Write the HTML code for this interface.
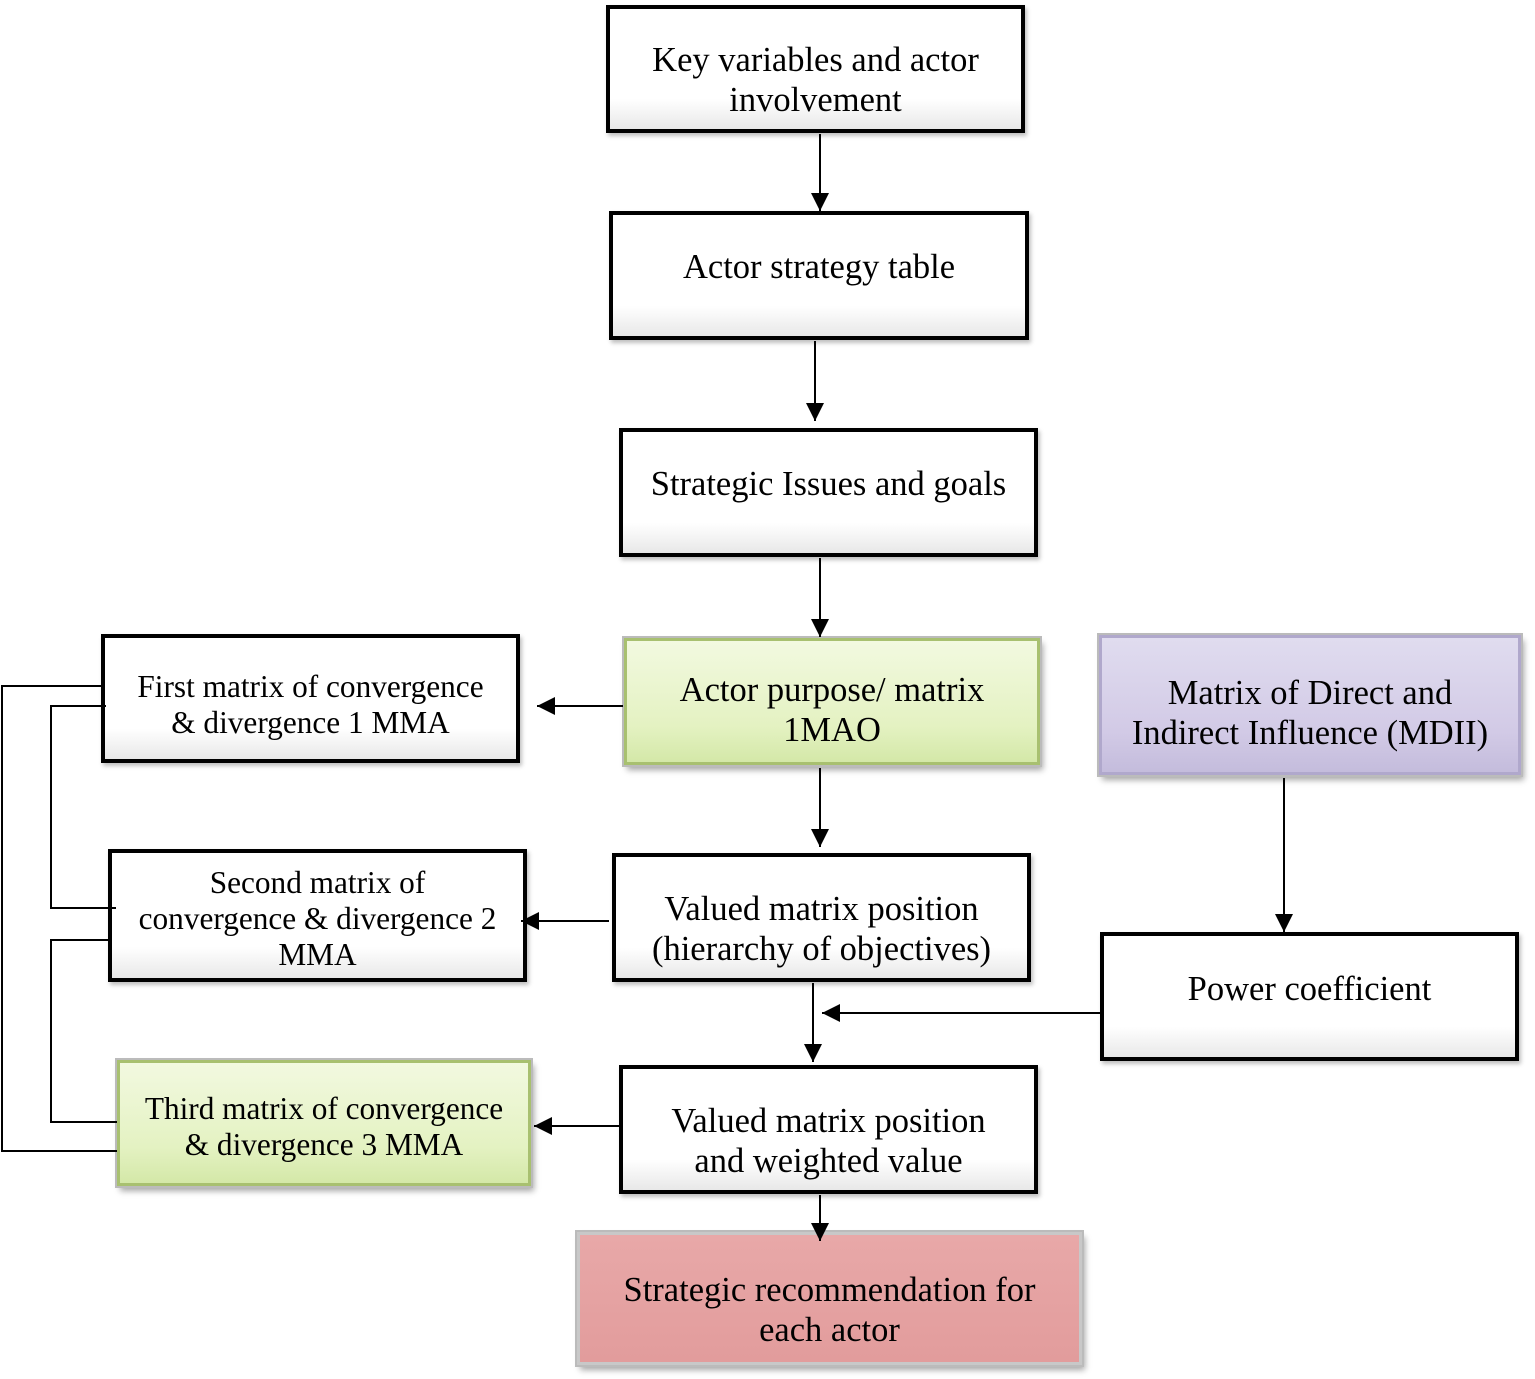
<!DOCTYPE html>
<html><head><style>
body{margin:0;width:1535px;height:1379px;background:#fff;position:relative;overflow:hidden;font-family:"Liberation Serif",serif;}
.b{position:absolute;box-sizing:border-box;border:4px solid #000;background:linear-gradient(#fff 0%,#fff 75%,#e8e8e8 100%);display:flex;align-items:center;justify-content:center;text-align:center;font-size:34.5px;line-height:40px;color:#000;box-shadow:2px 3px 4px rgba(0,0,0,0.25);}
.s{border:none;box-shadow:0 0 0 2px #bbb,3px 5px 6px rgba(0,0,0,0.35);}
svg{position:absolute;left:0;top:0;z-index:2}
</style></head><body>
<svg width="1535" height="1379">
<defs>
<marker id="m" viewBox="0 0 10 10" markerWidth="18" markerHeight="18" refX="10" refY="5" orient="auto" markerUnits="userSpaceOnUse"><path d="M0,0 L10,5 L0,10z" fill="#000"/></marker></defs>
<g stroke="#000" stroke-width="2" fill="none">
<line x1="820" y1="134" x2="820" y2="211" marker-end="url(#m)"/>
<line x1="815" y1="341" x2="815" y2="421" marker-end="url(#m)"/>
<line x1="820" y1="558" x2="820" y2="637" marker-end="url(#m)"/>
<line x1="820" y1="768" x2="820" y2="847" marker-end="url(#m)"/>
<line x1="1284" y1="778" x2="1284" y2="932" marker-end="url(#m)"/>
<line x1="813" y1="983" x2="813" y2="1062" marker-end="url(#m)"/>
<line x1="1100" y1="1013" x2="822" y2="1013" marker-end="url(#m)"/>
<line x1="820" y1="1195" x2="820" y2="1241" marker-end="url(#m)"/>
<line x1="623" y1="706" x2="537" y2="706" marker-end="url(#m)"/>
<line x1="609" y1="921" x2="521" y2="921" marker-end="url(#m)"/>
<line x1="623" y1="1126" x2="534" y2="1126" marker-end="url(#m)"/>
<polyline points="103,686 2,686 2,1151 117,1151"/>
<polyline points="106,706 51,706 51,908 116,908"/>
<polyline points="109,940 51,940 51,1122 117,1122"/>
</g></svg>
<div class="b" style="left:606px;top:5px;width:419px;height:128px;padding-top:22px">Key variables and actor<br>involvement</div>
<div class="b" style="left:609px;top:211px;width:420px;height:129px;padding-bottom:18px">Actor strategy table</div>
<div class="b" style="left:619px;top:428px;width:419px;height:129px;padding-bottom:18px">Strategic Issues and goals</div>
<div class="b s" style="left:624px;top:638px;width:416px;height:127px;background:linear-gradient(#f2f9e0,#e4f2c2 70%,#d4e8a8);border:3px solid #a8c070;padding-top:16px">Actor purpose/ matrix<br>1MAO</div>
<div class="b s" style="left:1099px;top:635px;width:422px;height:140px;background:linear-gradient(#e0dcef,#d2cae6 70%,#c4bcdc);border:3px solid #b0a8cc;padding-top:16px">Matrix of Direct and<br>Indirect Influence (MDII)</div>
<div class="b" style="left:101px;top:634px;width:419px;height:129px;font-size:31.3px;line-height:36px;padding-top:12px">First matrix of convergence<br>&amp; divergence 1 MMA</div>
<div class="b" style="left:108px;top:849px;width:419px;height:133px;font-size:31.3px;line-height:36px;padding-top:6px">Second matrix of<br>convergence &amp; divergence 2<br>MMA</div>
<div class="b" style="left:612px;top:853px;width:419px;height:129px;padding-top:22px">Valued matrix position<br>(hierarchy of objectives)</div>
<div class="b" style="left:1100px;top:932px;width:419px;height:129px;padding-bottom:16px">Power coefficient</div>
<div class="b s" style="left:117px;top:1060px;width:414px;height:126px;background:linear-gradient(#f2f9e0,#e4f2c2 70%,#d4e8a8);border:3px solid #a8c070;font-size:31.3px;line-height:36px;padding-top:8px">Third matrix of convergence<br>&amp; divergence 3 MMA</div>
<div class="b" style="left:619px;top:1065px;width:419px;height:129px;padding-top:22px">Valued matrix position<br>and weighted value</div>
<div class="b s" style="left:577px;top:1232px;width:505px;height:133px;background:linear-gradient(#e8a8a8,#e29c9c);border:3px solid #c8c8c8;font-size:34.5px;padding-top:22px">Strategic recommendation for<br>each actor</div>
</body></html>
